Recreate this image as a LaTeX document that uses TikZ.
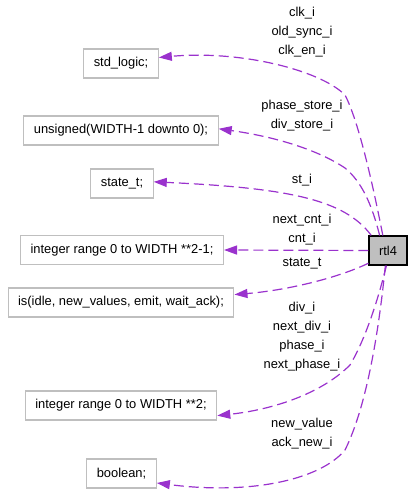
\documentclass[tikz,border=0pt]{standalone}
\usepackage{fontspec}
\setmainfont{Liberation Sans}
\usetikzlibrary{arrows.meta}
\definecolor{usedpurple}{RGB}{154,50,205}
\definecolor{typegray}{RGB}{191,191,191}
\tikzset{
	typebox/.style={draw=typegray, line width=1.2pt, inner xsep=10pt, inner ysep=0pt, minimum height=29pt},
	entitybox/.style={draw=black, fill=typegray, line width=1.2pt, inner xsep=10pt, inner ysep=0pt, minimum height=29pt},
	usedby/.style={draw=usedpurple, line width=1.2pt, dash pattern=on 10pt off 5pt, -{Triangle[length=13pt,width=9pt]}},
	portlabel/.style={align=center, inner sep=0pt}
}
\begin{document}
\begin{tikzpicture}[x=1pt, y=-1pt, font=\fontsize{12.9}{19}\selectfont]
		\useasboundingbox (0,0) rectangle (413,500);
		%types
		\node (stdlogic) at(121,63.5) [typebox]{std\_logic;};
		\node (unsignedw) at(121,130.5) [typebox]{unsigned(WIDTH-1 downto 0);};
		\node (statet) at(122,183.5) [typebox]{state\_t;};
		\node (intsqm) at(122,250) [typebox]{integer range 0 to WIDTH **2-1;};
		\node (isenum) at(121,302.5) [typebox]{is(idle, new\_values, emit, wait\_ack);};
		\node (intsq) at(121,405.5) [typebox]{integer range 0 to WIDTH **2;};
		\node (bool) at(121.5,473.5) [typebox]{boolean;};
		%entity
		\node (rtl) at(388,250.5) [entitybox]{rtl4};
		%std_logic
		\draw [usedby] (rtl.109) .. controls (372,180) and (358,120) .. (345,95)
			.. controls (320,70) and (240,50) .. (stdlogic.9);
		\node (lstdlogic) at(302,32) [portlabel]{clk\_i\\old\_sync\_i\\clk\_en\_i};
		%unsigned
		\draw [usedby] (rtl.119) .. controls (372,205) and (362,182) .. (345,168)
			.. controls (315,148) and (270,136) .. (unsignedw.1);
		\node (lunsignedw) at(302,116) [portlabel]{phase\_store\_i\\div\_store\_i};
		%state_t
		\draw [usedby] (rtl.138) .. controls (345,200) and (290,188) .. (statet.3);
		\node (lstatet) at(302,180) [portlabel]{st\_i};
		%integer **2-1
		\draw [usedby] (rtl.west) -- (intsqm.east);
		\node (lintsqm) at(302,230) [portlabel]{next\_cnt\_i\\cnt\_i};
		%is(...)
		\draw [usedby] (rtl.213) .. controls (340,277) and (290,290) .. (isenum.4);
		\node (lisenum) at(302,264) [portlabel]{state\_t};
		%integer **2
		\draw [usedby] (rtl.264) .. controls (378,300) and (365,340) .. (350,365)
			.. controls (320,395) and (270,410) .. (intsq.354);
		\node (lintsq) at(302,337) [portlabel]{div\_i\\next\_div\_i\\phase\_i\\next\_phase\_i};
		%boolean
		\draw [usedby] (rtl.260) .. controls (378,340) and (365,410) .. (345,450)
			.. controls (320,480) and (250,495) .. (bool.345);
		\node (lbool) at(302,434) [portlabel]{new\_value\\ack\_new\_i};
	\end{tikzpicture}
\end{document}
